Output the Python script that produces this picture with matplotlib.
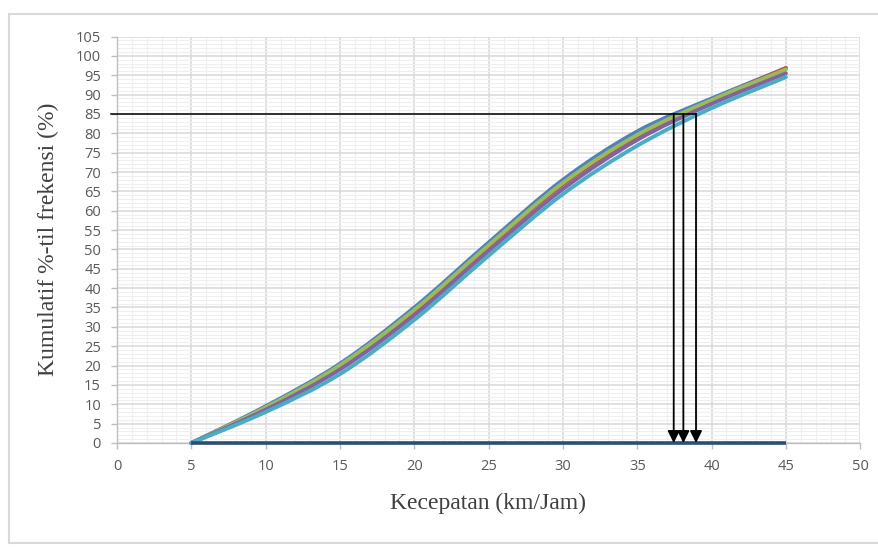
#!/usr/bin/env python3

import matplotlib.pyplot as plt
from matplotlib.path import Path
from matplotlib.patches import PathPatch
from matplotlib.ticker import MultipleLocator
import numpy as np

# Data (speed km/h -> cumulative %)
kecepatan = [5, 10, 15, 20, 25, 30, 35, 40, 45]
seri_1 = [0, 9.5, 20.5, 35.0, 51.8, 68.0, 80.5, 89.0, 96.8]
seri_2 = [0, 9.0, 19.8, 34.0, 50.8, 66.8, 79.2, 88.4, 96.9]
seri_3 = [0, 9.2, 20.1, 34.4, 51.1, 67.2, 79.6, 88.6, 96.5]
seri_4 = [0, 8.6, 19.0, 33.0, 49.6, 65.6, 78.3, 87.6, 95.5]
seri_5 = [0, 8.0, 17.8, 31.8, 48.4, 64.3, 76.8, 86.5, 94.5]
warna = ['#4F81BD', '#C0504D', '#9BBB59', '#8064A2', '#4BACC6']

# baseline series and the 85th percentile readings
dasar_x = [5, 45]
dasar_y = [0, 0]
persentil = 85
v85 = [37.45, 38.1, 38.95]

xticks = np.arange(0, 51, 5)
yticks = np.arange(0, 106, 5)


def kurva_halus(ax, x, y, warna_garis, lw):
    # smoothed line like the spreadsheet (Catmull-Rom as Bezier segments)
    x = np.asarray(x, float)
    y = np.asarray(y, float)
    n = len(x)
    verts = [(x[0], y[0])]
    codes = [Path.MOVETO]
    for i in range(n - 1):
        x0, y0 = (x[i - 1], y[i - 1]) if i > 0 else (x[i], y[i])
        x3, y3 = (x[i + 2], y[i + 2]) if i + 2 < n else (x[i + 1], y[i + 1])
        c1 = (x[i] + (x[i + 1] - x0) / 6, y[i] + (y[i + 1] - y0) / 6)
        c2 = (x[i + 1] - (x3 - x[i]) / 6, y[i + 1] - (y3 - y[i]) / 6)
        verts += [c1, c2, (x[i + 1], y[i + 1])]
        codes += [Path.CURVE4] * 3
    ax.add_patch(PathPatch(Path(verts, codes), fill=False, edgecolor=warna_garis,
                           lw=lw, capstyle='round', joinstyle='round', zorder=3,
                           clip_on=False))


fig = plt.figure(figsize=(8.79, 5.49), dpi=100)
ax = fig.add_axes([0.1331, 0.1931, 0.8456, 0.7404])

for s, c in zip([seri_1, seri_2, seri_3, seri_4, seri_5], warna):
    kurva_halus(ax, kecepatan, s, c, 2.8)

ax.plot(dasar_x, dasar_y, color='#2C4D75', lw=2.6, zorder=4,
        solid_capstyle='butt', clip_on=False)

# 85 % line and arrows down to the speed axis
ax.plot([-0.4, max(v85)], [persentil, persentil], color='black', lw=1.1,
        zorder=5, clip_on=False)
for v in v85:
    ax.annotate('', xy=(v, 0), xytext=(v, persentil),
                arrowprops=dict(arrowstyle='-|>', color='black', lw=1.3,
                                mutation_scale=18, shrinkA=0, shrinkB=0),
                zorder=6)

ax.set_xlim(0, 50)
ax.set_ylim(0, 105)
ax.set_xticks(xticks)
ax.set_yticks(yticks)
ax.xaxis.set_minor_locator(MultipleLocator(1))
ax.yaxis.set_minor_locator(MultipleLocator(1))
ax.grid(True, which='minor', color='#EFEFEF', lw=0.8, zorder=0)
ax.grid(True, which='major', color='#D9D9D9', lw=1.1, zorder=1)
ax.set_axisbelow(True)

for side in ['top', 'right']:
    ax.spines[side].set_visible(False)
for side in ['left', 'bottom']:
    ax.spines[side].set_color('#BFBFBF')
    ax.spines[side].set_linewidth(1.0)

ax.tick_params(which='major', length=4.5, width=1.0, color='#BFBFBF',
               labelcolor='#595959', labelsize=10.5)
ax.tick_params(axis='y', pad=7)
ax.tick_params(axis='x', pad=7)
ax.tick_params(which='minor', length=0)
for lab in ax.get_xticklabels() + ax.get_yticklabels():
    lab.set_family('Open Sans')

ax.set_xlabel('Kecepatan (km/Jam)', family='Liberation Serif', fontsize=17,
              color='#404040')
ax.set_ylabel('Kumulatif %-til frekensi (%)', family='Liberation Serif',
              fontsize=17, color='#404040')
ax.xaxis.set_label_coords(0.499, -0.123)
ax.yaxis.set_label_coords(-0.078, 0.5)

# outer frame of the chart area
fig.add_artist(plt.Line2D([9 / 879, 9 / 879], [6 / 549, 1 - 14 / 549],
                          transform=fig.transFigure, color='#D9D9D9', lw=1.5))
fig.add_artist(plt.Line2D([9 / 879, 1], [1 - 14 / 549, 1 - 14 / 549],
                          transform=fig.transFigure, color='#D9D9D9', lw=1.5))
fig.add_artist(plt.Line2D([9 / 879, 1], [6 / 549, 6 / 549],
                          transform=fig.transFigure, color='#D9D9D9', lw=1.5))

plt.savefig('out.png', dpi=100)
plt.close()
